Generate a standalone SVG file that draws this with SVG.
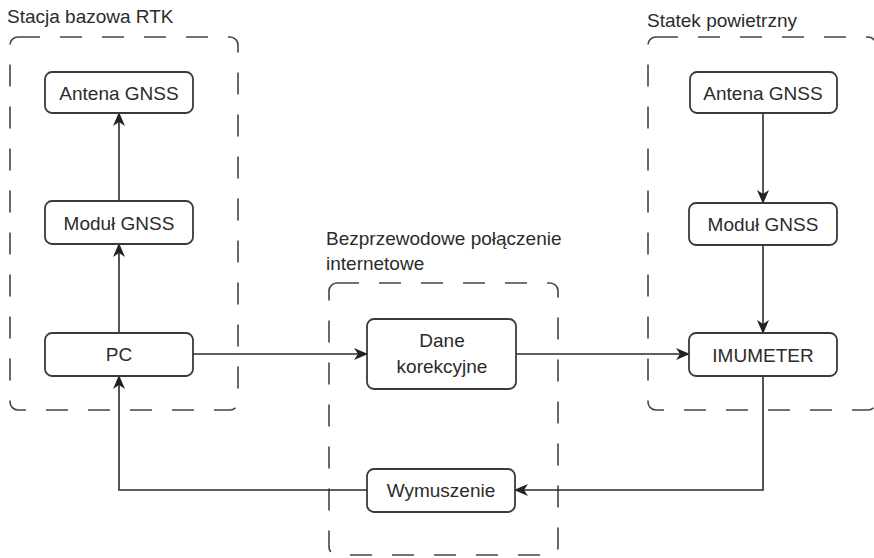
<svg xmlns="http://www.w3.org/2000/svg" width="874" height="558" viewBox="0 0 874 558">
<defs>
<style>
.t{font-family:"Liberation Sans",Arial,sans-serif;font-size:19px;fill:#2b2b2b}
.c{text-anchor:middle}
.box{fill:#fff;stroke:#3a3a3a;stroke-width:1.8}
.grp{fill:none;stroke:#444;stroke-width:1.6;stroke-dasharray:22 20}
.ln{fill:none;stroke:#2b2b2b;stroke-width:1.6}
</style>
<marker id="ah" markerWidth="14" markerHeight="12" refX="13" refY="6" orient="auto" markerUnits="userSpaceOnUse">
<path d="M0,0 L14,6 L0,12 L4,6 z" fill="#222"/>
</marker>
</defs>
<rect width="874" height="558" fill="#fff"/>
<g id="group-rtk">
<rect class="grp" x="10" y="37" width="228" height="373" rx="8"/>
<text class="t" x="7" y="23">Stacja bazowa RTK</text>
</g>
<g id="group-net">
<rect class="grp" x="329" y="283" width="229" height="272" rx="8"/>
<text class="t" x="326" y="245">Bezprzewodowe połączenie</text>
<text class="t" x="326" y="270">internetowe</text>
</g>
<g id="group-aircraft">
<rect class="grp" x="648" y="37" width="228" height="373" rx="8"/>
<text class="t" x="647" y="27">Statek powietrzny</text>
</g>
<g id="connectors">
<line class="ln" x1="119" y1="333" x2="119" y2="244" marker-end="url(#ah)"/>
<line class="ln" x1="119" y1="201" x2="119" y2="113" marker-end="url(#ah)"/>
<line class="ln" x1="763" y1="113" x2="763" y2="203" marker-end="url(#ah)"/>
<line class="ln" x1="763" y1="245" x2="763" y2="333" marker-end="url(#ah)"/>
<line class="ln" x1="193" y1="354" x2="367" y2="354" marker-end="url(#ah)"/>
<line class="ln" x1="516" y1="354" x2="689" y2="354" marker-end="url(#ah)"/>
<polyline class="ln" points="763,376 763,490 515,490" marker-end="url(#ah)"/>
<polyline class="ln" points="367,490 119,490 119,376" marker-end="url(#ah)"/>
</g>
<g id="antena-rtk">
<rect class="box" x="45" y="72" width="148" height="41" rx="7"/>
<text class="t c" x="119" y="100">Antena GNSS</text>
</g>
<g id="modul-rtk">
<rect class="box" x="45" y="201" width="148" height="43" rx="7"/>
<text class="t c" x="119" y="230">Moduł GNSS</text>
</g>
<g id="pc">
<rect class="box" x="45" y="333" width="148" height="43" rx="7"/>
<text class="t c" x="119" y="361">PC</text>
</g>
<g id="antena-air">
<rect class="box" x="690" y="72" width="147" height="41" rx="7"/>
<text class="t c" x="763" y="100">Antena GNSS</text>
</g>
<g id="modul-air">
<rect class="box" x="689" y="203" width="148" height="42" rx="7"/>
<text class="t c" x="763" y="231">Moduł GNSS</text>
</g>
<g id="imumeter">
<rect class="box" x="689" y="333" width="148" height="43" rx="7"/>
<text class="t c" x="763" y="362">IMUMETER</text>
</g>
<g id="dane">
<rect class="box" x="367" y="319" width="149" height="70" rx="7"/>
<text class="t c" x="442" y="347">Dane</text>
<text class="t c" x="442" y="373">korekcyjne</text>
</g>
<g id="wymuszenie">
<rect class="box" x="367" y="469" width="148" height="43" rx="7"/>
<text class="t c" x="441" y="497">Wymuszenie</text>
</g>
</svg>
